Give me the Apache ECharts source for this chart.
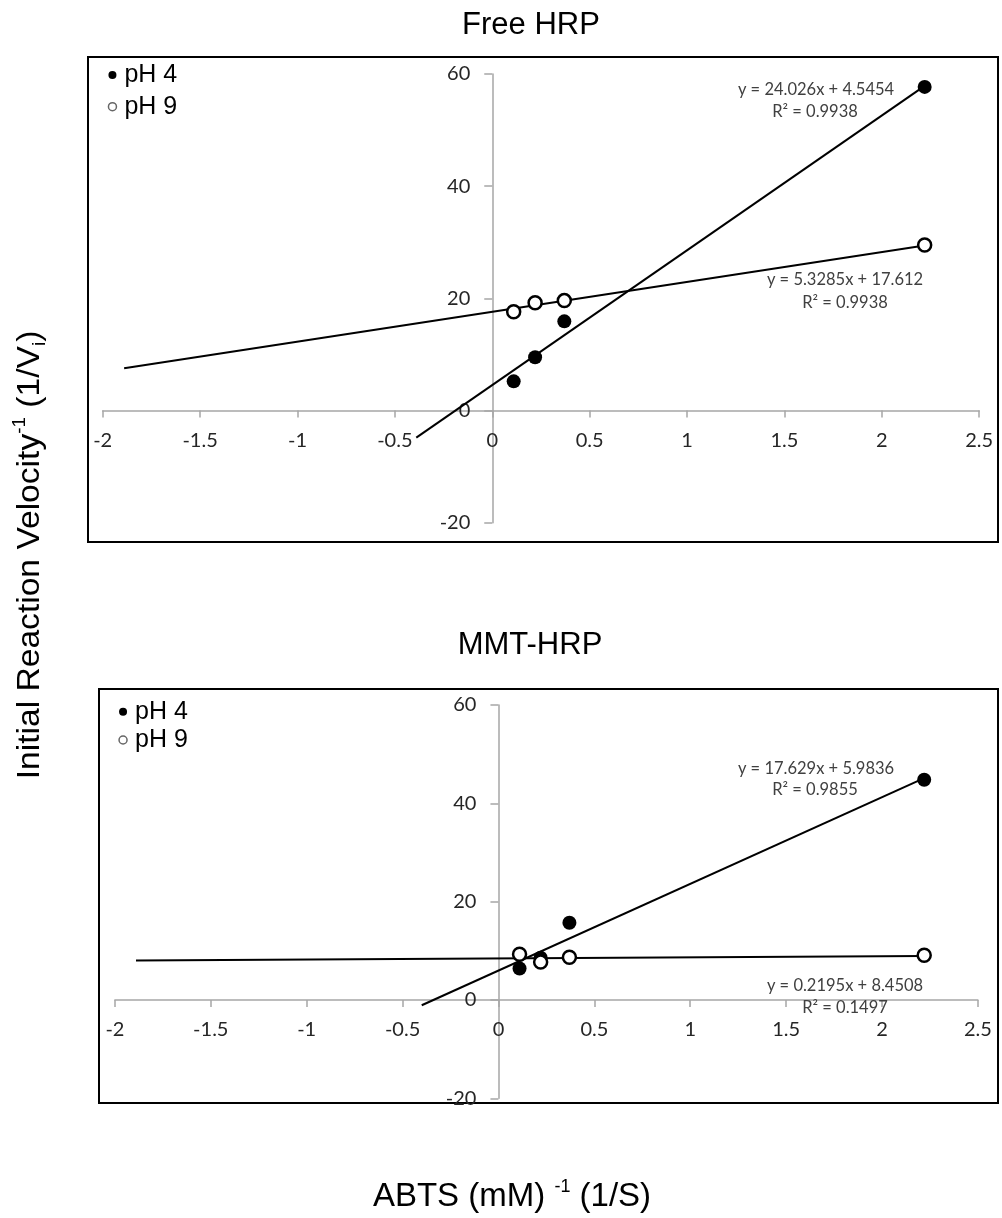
<!DOCTYPE html>
<html><head><meta charset="utf-8">
<script src="https://cdn.jsdelivr.net/npm/echarts@6/dist/echarts.min.js"></script>
<style>html,body{margin:0;padding:0;background:#fff}#c{width:1002px;height:1218px}</style>
</head><body><div id="c"></div>
<script>
// ---- data ----
const abts = [0.11, 0.22, 0.37, 2.22];           // 1/S (mM^-1)
const freePH4 = [5.2, 9.5, 15.9, 57.7];
const freePH9 = [17.6, 19.2, 19.6, 29.5];
const mmtPH4 = [6.4, 8.6, 15.7, 44.8];
const mmtPH9 = [9.3, 7.7, 8.7, 9.1];

// trendline end points (x, y) as drawn
const freeFit4 = [[-0.39, -4.83], [2.22, 57.88]];
const freeFit9 = [[-1.89, 7.54], [2.22, 29.44]];
const mmtFit4 = [[-0.40, -1.07], [2.22, 45.12]];
const mmtFit9 = [[-1.89, 8.04], [2.22, 8.94]];

const freeEq = ['y = 24.026x + 4.5454', 'R² = 0.9938', 'y = 5.3285x + 17.612', 'R² = 0.9938'];
const mmtEq = ['y = 17.629x + 5.9836', 'R² = 0.9855', 'y = 0.2195x + 8.4508', 'R² = 0.1497'];

const chartTitles = ['Free HRP', 'MMT-HRP'];
const seriesNames = ['pH 4', 'pH 9'];
const xMin = -2, xMax = 2.5, xStep = 0.5;
const yMin = -20, yMax = 60, yStep = 20;

// ---- layout ----
const grids = [
  { left: 102.7, top: 74, width: 876.5, height: 448.7 },
  { left: 114.9, top: 705, width: 863, height: 393.3 }
];

// ---- build ----
const pts = (xs, ys) => xs.map((x, i) => [x, ys[i]]);
const AX = '#a6a6a6', LBL = '#262626';
const labelFont = 'Lato, "Open Sans", sans-serif';
const sansFont = '"Liberation Sans", Arial, sans-serif';

// axes cross at zero: shift each axis from the grid edge to the other axis's zero
function xAx(gi) {
  const g = grids[gi];
  return {
    type: 'value', gridIndex: gi, min: xMin, max: xMax, interval: xStep, position: 'bottom',
    offset: -((0 - yMin) / (yMax - yMin)) * g.height,
    axisLine: { onZero: false, lineStyle: { color: AX, width: 1.5 } },
    axisTick: { show: true, length: 7, lineStyle: { color: AX, width: 1.5 } },
    axisLabel: { margin: 20, fontFamily: labelFont, fontSize: 20, color: LBL, showMinLabel: true, showMaxLabel: true },
    splitLine: { show: false }
  };
}
function yAx(gi) {
  const g = grids[gi];
  return {
    type: 'value', gridIndex: gi, min: yMin, max: yMax, interval: yStep, position: 'left',
    offset: -((0 - xMin) / (xMax - xMin)) * g.width,
    axisLine: { show: true, onZero: false, lineStyle: { color: AX, width: 1.5 } },
    axisTick: { show: true, length: 8, lineStyle: { color: AX, width: 1.5 } },
    axisLabel: { margin: 22, fontFamily: labelFont, fontSize: 20, color: LBL, showMinLabel: true, showMaxLabel: true },
    splitLine: { show: false }
  };
}
function fitLine(name, d, gi) {
  return { name, type: 'line', xAxisIndex: gi, yAxisIndex: gi, data: d, showSymbol: false, symbol: 'none',
    lineStyle: { color: '#000', width: 2 }, silent: true, z: 2, animation: false };
}
function scat(name, d, gi, filled) {
  return { name, type: 'scatter', xAxisIndex: gi, yAxisIndex: gi, data: d, symbol: 'circle',
    symbolSize: filled ? 14 : 13,
    itemStyle: filled ? { color: '#000', opacity: 1 } : { color: '#fff', borderColor: '#000', borderWidth: 2.5, opacity: 1 },
    z: 5, animation: false };
}
function legendFor(left, top, gap) {
  return {
    left, top, orient: 'vertical', itemWidth: 8, itemHeight: 8, itemGap: gap,
    textStyle: { fontFamily: sansFont, fontSize: 25, color: '#000', lineHeight: 28, padding: [0, 0, 0, 3] },
    data: [
      { name: seriesNames[0], icon: 'circle', itemStyle: { color: '#000', borderWidth: 0, opacity: 1 } },
      { name: seriesNames[1], icon: 'circle', itemStyle: { color: '#fff', borderColor: '#666', borderWidth: 1.5, opacity: 1 } }
    ],
    selectedMode: false
  };
}
function txt(t, x, y, size, color, font) {
  return { type: 'text', x, y, style: { text: t, x: 0, y: 0, fill: color, fontSize: size, fontFamily: font, align: 'center', verticalAlign: 'middle' }, z: 10 };
}
const eqFont = 'Lato, "Open Sans", sans-serif', EQC = '#404040';

const option = {
  animation: false,
  backgroundColor: '#fff',
  grid: grids.map(g => Object.assign({ outerBoundsMode: 'none', containLabel: false }, g)),
  xAxis: [xAx(0), xAx(1)],
  yAxis: [yAx(0), yAx(1)],
  legend: [legendFor(102.7, 56, 3.7), legendFor(113.3, 692.7, 0.3)],
  series: [
    fitLine('fitA4', freeFit4, 0), fitLine('fitA9', freeFit9, 0),
    scat(seriesNames[0], pts(abts, freePH4), 0, true), scat(seriesNames[1], pts(abts, freePH9), 0, false),
    fitLine('fitB4', mmtFit4, 1), fitLine('fitB9', mmtFit9, 1),
    scat(seriesNames[0], pts(abts, mmtPH4), 1, true), scat(seriesNames[1], pts(abts, mmtPH9), 1, false)
  ],
  graphic: [
    { type: 'rect', shape: { x: 88, y: 57, width: 910, height: 485 }, style: { fill: null, stroke: '#000', lineWidth: 2 }, z: -1, silent: true },
    { type: 'rect', shape: { x: 99, y: 689, width: 899, height: 414 }, style: { fill: null, stroke: '#000', lineWidth: 2 }, z: -1, silent: true },
    txt(chartTitles[0], 531, 25, 31, '#000', sansFont),
    txt(chartTitles[1], 530, 645, 31, '#000', sansFont),
    txt(freeEq[0], 816, 90, 16.5, EQC, eqFont),
    txt(freeEq[1], 815, 112, 16.5, EQC, eqFont),
    txt(freeEq[2], 845, 280, 16.5, EQC, eqFont),
    txt(freeEq[3], 845, 303, 16.5, EQC, eqFont),
    txt(mmtEq[0], 816, 769, 16.5, EQC, eqFont),
    txt(mmtEq[1], 815, 790, 16.5, EQC, eqFont),
    txt(mmtEq[2], 845, 986, 16.5, EQC, eqFont),
    txt(mmtEq[3], 845, 1008, 16.5, EQC, eqFont),
    {
      type: 'text', x: 30, y: 555, rotation: Math.PI / 2, scaleX: 1.05, z: 10,
      style: {
        text: '{m|Initial Reaction Velocity}{s|-1}{m| (1/V}{b|i}{m|)}',
        x: 0, y: 0, align: 'center', verticalAlign: 'middle', fill: '#000',
        rich: {
          m: { fontSize: 32, fontFamily: sansFont, lineHeight: 38, fill: '#000' },
          s: { fontSize: 18, fontFamily: sansFont, lineHeight: 18, verticalAlign: 'top', fill: '#000' },
          b: { fontSize: 18, fontFamily: sansFont, lineHeight: 18, verticalAlign: 'bottom', fill: '#000' }
        }
      }
    },
    {
      type: 'text', x: 512, y: 1197, z: 10,
      style: {
        text: '{m|ABTS (mM) }{s|-1}{m| (1/S)}',
        x: 0, y: 0, align: 'center', verticalAlign: 'middle', fill: '#000',
        rich: {
          m: { fontSize: 33, fontFamily: sansFont, lineHeight: 38, fill: '#000' },
          s: { fontSize: 18, fontFamily: sansFont, lineHeight: 18, verticalAlign: 'top', fill: '#000' }
        }
      }
    }
  ]
};
const chart = echarts.init(document.getElementById('c'), null, { renderer: 'canvas' });
chart.setOption(option);
</script>
</body></html>
